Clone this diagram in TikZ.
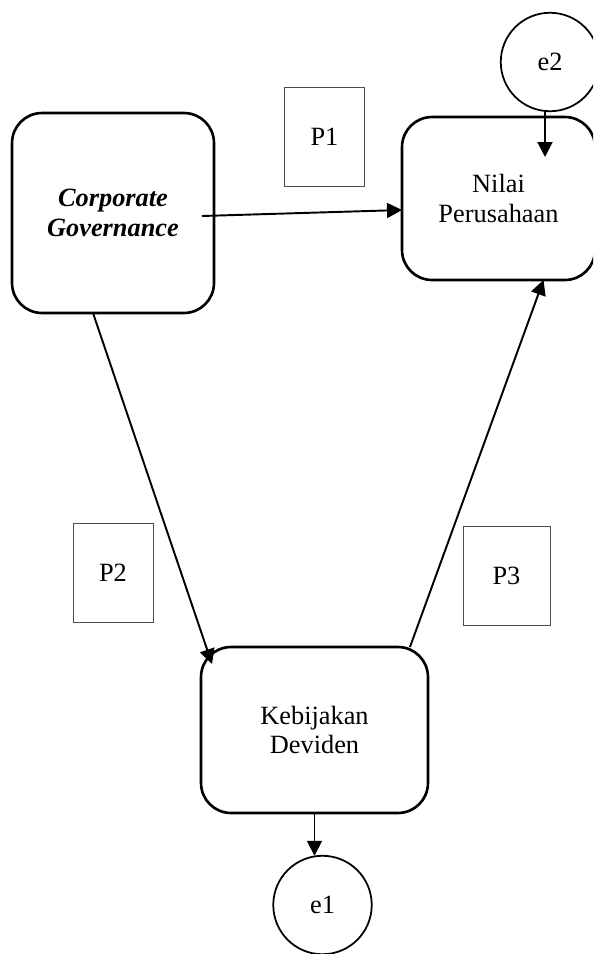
\documentclass[tikz,border=0pt]{standalone}
\usepackage{fontspec}
\setmainfont{Liberation Serif}
\usepackage{tikz}
\usetikzlibrary{positioning, arrows.meta}

\tikzset{
  varbox/.style={draw, rounded corners=0.6cm, line width=1.5pt, align=center,
    inner sep=0pt, outer sep=0pt, font=\fontsize{15}{17}\selectfont},
  pbox/.style={draw=black!70, line width=0.5pt, inner sep=0pt, outer sep=0pt,
    minimum width=1.6cm, minimum height=1.98cm, font=\fontsize{15}{17}\selectfont},
  errnode/.style={circle, draw, line width=1pt, inner sep=0pt, outer sep=0pt,
    minimum size=1.97cm, font=\fontsize{15}{17}\selectfont},
  arr/.style={-{Triangle[length=0.3cm, width=0.3cm]}, line width=1.1pt}
}

\begin{document}
\begin{tikzpicture}[x=0.02cm, y=-0.02cm]
        \clip (0,0) rectangle (593,954);

        \node[varbox, minimum width=4.04cm, minimum height=4.0cm](cg) at (113,213) {\textbf{\textit{Corporate}}\\\textbf{\textit{Governance}}};
        \node[varbox, minimum width=3.86cm, minimum height=3.26cm](np) at (498.5,198.5) {Nilai\\Perusahaan};
        \node[varbox, minimum width=4.54cm, minimum height=3.32cm](kd) at (314.5,730) {Kebijakan\\Deviden};

        \node[pbox](p1) at (324.5,136.5) {P1};
        \node[pbox](p2) at (113,572.5) {P2};
        \node[pbox, minimum width=1.74cm](p3) at (506.5,576) {P3};

        \node[errnode](e2) at (550,62) {e2};
        \node[errnode](e1) at (322.5,905) {e1};
        \coordinate (e2tip) at (545,157);

        \path[every edge/.style={draw, arr}]
        ([shift={(-12,3)}]cg.east) edge ([shift={(0,11.5)}]np.west)
        ([shift={(-20,0)}]cg.south) edge ([shift={(11,17)}]kd.north west)
        ([shift={(-18,0)}]kd.north east) edge ([shift={(45,0)}]np.south)
        ([xshift=-0.1cm]e2.south) edge (e2tip)
        (kd.south) edge (kd.south |- e1.north);
    \end{tikzpicture}
\end{document}
